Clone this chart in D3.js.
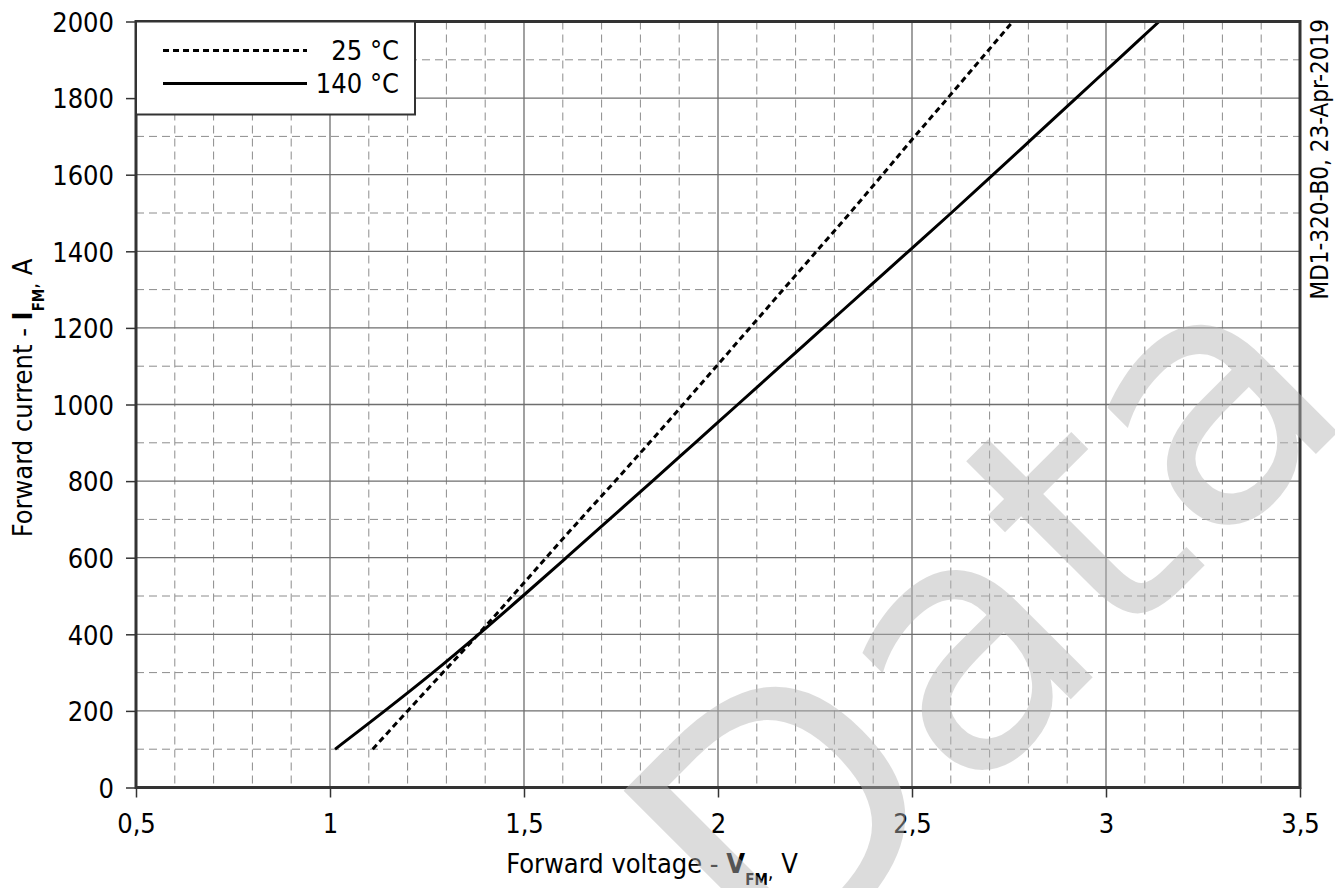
<!DOCTYPE html>
<html>
<head>
<meta charset="utf-8">
<script src="https://cdn.jsdelivr.net/npm/d3@7"></script>
<style>
  html, body { margin: 0; padding: 0; background: #fff; }
  svg { display: block; }
  text { font-family: "DejaVu Sans Condensed", "DejaVu Sans", sans-serif; font-stretch: condensed; }
</style>
</head>
<body>
<svg id="chart" width="1335" height="888"></svg>
<script>
// ---- data ----
const seriesNames = ["25 °C", "140 °C"];
// forward current (A) / forward voltage (V) for each series
const current25 = [100, 200, 300, 400, 500, 600, 700, 800, 900, 1000, 1100, 1200, 1300, 1400, 1500, 1600, 1700, 1800, 1900, 2000];
const voltage25 = [1.110, 1.200, 1.291, 1.382, 1.470, 1.557, 1.645, 1.735, 1.823, 1.910, 1.996, 2.082, 2.168, 2.254, 2.340, 2.424, 2.507, 2.592, 2.676, 2.760];
const current140 = [100, 200, 300, 400, 500, 600, 700, 800, 900, 1000, 1100, 1200, 1300, 1400, 1500, 1600, 1700, 1800, 1900, 2000];
const voltage140 = [1.013, 1.141, 1.265, 1.383, 1.497, 1.609, 1.720, 1.831, 1.941, 2.051, 2.161, 2.271, 2.381, 2.491, 2.601, 2.709, 2.816, 2.923, 3.030, 3.137];
const xTicks = [0.5, 1, 1.5, 2, 2.5, 3, 3.5];
const yTicks = [0, 200, 400, 600, 800, 1000, 1200, 1400, 1600, 1800, 2000];
const xMinor = [0.6,0.7,0.8,0.9,1.1,1.2,1.3,1.4,1.6,1.7,1.8,1.9,2.1,2.2,2.3,2.4,2.6,2.7,2.8,2.9,3.1,3.2,3.3,3.4];
const yMinor = [100,300,500,700,900,1100,1300,1500,1700,1900];
const xLabel = "Forward voltage - ";
const yLabel = "Forward current - ";
const stamp = "MD1-320-B0, 23-Apr-2019";
const watermark = "Data";

// ---- layout ----
const svg = d3.select("#chart");
const L = 136, R = 1300, T = 21.5, B = 787.5;
const x = d3.scaleLinear().domain([0.5, 3.5]).range([L, R]);
const y = d3.scaleLinear().domain([0, 2000]).range([B, T]);
const FS = 27;

// grid
const grid = svg.append("g");
grid.selectAll(".vminor").data(xMinor).join("line")
  .attr("x1", d => x(d)).attr("x2", d => x(d)).attr("y1", T).attr("y2", B)
  .attr("stroke", "#8c8c8c").attr("stroke-width", 1).attr("stroke-dasharray", "8,5");
grid.selectAll(".hminor").data(yMinor).join("line")
  .attr("x1", L).attr("x2", R).attr("y1", d => y(d)).attr("y2", d => y(d))
  .attr("stroke", "#8c8c8c").attr("stroke-width", 1).attr("stroke-dasharray", "8,5");
grid.selectAll(".vmajor").data(xTicks.slice(1, -1)).join("line")
  .attr("x1", d => x(d)).attr("x2", d => x(d)).attr("y1", T).attr("y2", B)
  .attr("stroke", "#6e6e6e").attr("stroke-width", 1.3);
grid.selectAll(".hmajor").data(yTicks.slice(1, -1)).join("line")
  .attr("x1", L).attr("x2", R).attr("y1", d => y(d)).attr("y2", d => y(d))
  .attr("stroke", "#6e6e6e").attr("stroke-width", 1.3);

// axes
const fmtX = d => String(d).replace(".", ",");
const fmtY = d3.format("d");
const xAxis = svg.append("g").attr("transform", `translate(0,${B})`)
  .call(d3.axisBottom(x).tickValues(xTicks).tickFormat(fmtX).tickSize(10).tickPadding(16));
const yAxis = svg.append("g").attr("transform", `translate(${L},0)`)
  .call(d3.axisLeft(y).tickValues(yTicks).tickFormat(fmtY).tickSize(10).tickPadding(12));
[xAxis, yAxis].forEach(a => {
  a.select(".domain").remove();
  a.selectAll(".tick line").attr("stroke", "#333").attr("stroke-width", 1.5);
  a.selectAll("text").style("font-family", null).attr("font-size", FS).style("fill", "#000");
});
xAxis.selectAll("text").attr("dy", "0.71em");
yAxis.selectAll("text").attr("dy", "0.36em");

// curves
const line = d3.line().x(d => x(d[0])).y(d => y(d[1])).curve(d3.curveMonotoneY);
const d25 = voltage25.map((v, i) => [v, current25[i]]);
const d140 = voltage140.map((v, i) => [v, current140[i]]);
svg.append("path").datum(d25).attr("d", line)
  .attr("fill", "none").attr("stroke", "#000").attr("stroke-width", 3).attr("stroke-dasharray", "6,4");
svg.append("path").datum(d140).attr("d", line)
  .attr("fill", "none").attr("stroke", "#000").attr("stroke-width", 3);

// frame
svg.append("rect").attr("x", L).attr("y", T).attr("width", R - L).attr("height", B - T)
  .attr("fill", "none").attr("stroke", "#333").attr("stroke-width", 3);

// legend
const lg = svg.append("g");
lg.append("rect").attr("x", L).attr("y", T).attr("width", 279).attr("height", 93)
  .attr("fill", "#fff").attr("stroke", "#333").attr("stroke-width", 2);
const legendRows = [{name: seriesNames[0], dash: "6,4", yy: 50.5}, {name: seriesNames[1], dash: null, yy: 83.5}];
legendRows.forEach(r => {
  lg.append("line").attr("x1", 163).attr("x2", 307).attr("y1", r.yy).attr("y2", r.yy)
    .attr("stroke", "#000").attr("stroke-width", 3).attr("stroke-dasharray", r.dash);
  lg.append("text").attr("x", 399).attr("y", r.yy + 9).attr("text-anchor", "end")
    .attr("font-size", FS).style("fill", "#000").text(r.name);
});

// axis titles
const xt = svg.append("text").attr("x", 652).attr("y", 873).attr("text-anchor", "middle")
  .attr("font-size", FS).style("fill", "#000");
xt.append("tspan").text(xLabel);
xt.append("tspan").attr("font-weight", "bold").text("V");
xt.append("tspan").attr("font-weight", "bold").attr("font-size", 15).attr("dy", 12).text("FM");
xt.append("tspan").attr("font-size", 20).attr("dy", -6).text(",");
xt.append("tspan").attr("dy", -6).text(" V");

const yt = svg.append("text").attr("transform", "translate(32,398) rotate(-90)").attr("text-anchor", "middle")
  .attr("font-size", FS).style("fill", "#000");
yt.append("tspan").text(yLabel);
yt.append("tspan").attr("font-weight", "bold").text("I");
yt.append("tspan").attr("font-weight", "bold").attr("font-size", 15).attr("dy", 12).text("FM");
yt.append("tspan").attr("font-size", 20).attr("dy", -6).text(",");
yt.append("tspan").attr("dy", -6).text(" A");

// stamp
svg.append("text").attr("transform", "translate(1328,19) rotate(-90)").attr("text-anchor", "end")
  .attr("font-size", 24).style("fill", "#000").text(stamp);

// watermark (drawn on top, translucent)
svg.append("text").attr("transform", "translate(1360,410) rotate(-45)").attr("text-anchor", "end")
  .attr("font-size", 345).style("font-family", "'DejaVu Sans', sans-serif").style("font-stretch", "normal")
  .style("fill", "#b5b5b5").style("fill-opacity", 0.47).text(watermark);
</script>
</body>
</html>
